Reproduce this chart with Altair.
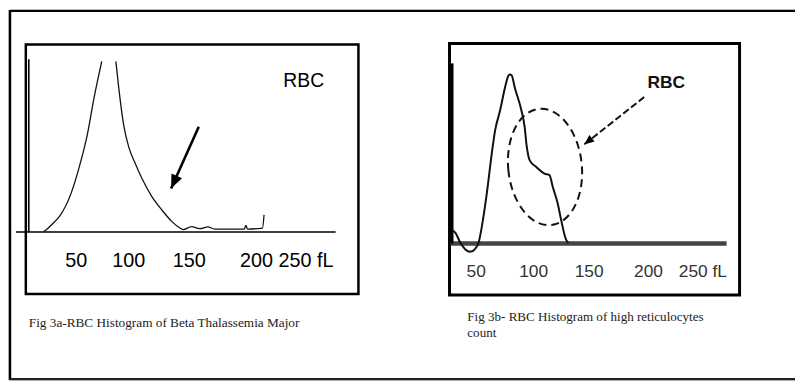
import altair as alt
import pandas as pd

# ---------------- Fig 3a : RBC histogram of beta thalassaemia major ----------------
a_left_mcv = [14.9, 17.5, 23.8, 30.7, 42.3, 50.5, 58.7, 65.3, 73.0]
a_left_count = [0.2, 1.3, 4.8, 9.1, 22.6, 38.1, 57.5, 78.7, 100.0]
a_right_mcv = [87.1, 89.9, 95.0, 100.0, 106.6, 113.2, 123.1, 133.0, 142.9, 151.2, 154.5,
               162.7, 171.0, 179.2, 185.8, 199.0, 215.5, 217.1, 218.8, 233.7, 235.3]
a_right_count = [100.0, 84.9, 62.3, 49.7, 40.0, 31.3, 20.7, 12.9, 6.2, 2.3, 1.3,
                 3.1, 1.9, 2.9, 1.7, 1.7, 1.7, 3.8, 1.7, 2.2, 10.0]
a_tick_labels = ["50", "100", "150", "200", "250 fL"]
a_tick_pos = [47.5, 100, 160.4, 227.7, 277.2]
a_arrow = {"x": 170, "y": 61.7, "x2": 142.3, "y2": 25.5}
a_label = {"x": 275, "y": 84.9, "t": "RBC"}
a_caption = "Fig 3a-RBC Histogram of Beta Thalassemia Major"

# ---------------- Fig 3b : RBC histogram of high reticulocyte count ----------------
b_mcv = [28.4, 31.9, 36.2, 40.5, 44.8, 49.1, 52.0, 54.9, 59.2, 63.5, 66.4, 70.7, 75.0,
         77.8, 79.3, 80.8, 83.6, 89.4, 92.2, 93.7, 96.6, 102.3, 109.5, 113.8, 116.6,
         120.9, 123.9, 128.2, 130.2]
b_count = [8.2, 6.3, 0.4, -3.5, -4.9, -3.1, 0.4, 10.1, 29.6, 53.0, 66.7, 78.4, 92.0,
           98.8, 99.8, 99.4, 92.0, 78.4, 68.6, 58.9, 49.1, 45.2, 41.3, 40.4, 33.5,
           23.8, 14.0, 2.3, 0.4]
b_tick_labels = ["50", "100", "150", "200", "250 fL"]
b_tick_pos = [50, 100, 148.3, 200, 247.4]
b_arrow = {"x": 196.3, "y": 86.5, "x2": 144.0, "y2": 58.5}
b_ellipse = {"x": 109.9, "y": 45.2}
b_label = {"x": 215.5, "y": 92.0, "t": "RBC"}
b_caption = ["Fig 3b- RBC Histogram of high reticulocytes", "count"]

# ---------------- scales (data -> pixel placement of each panel) ----------------
def sc(dom, rng):
    return alt.Scale(domain=dom, range=rng, nice=False, zero=False)

SA_X = sc([0, 100], [21, 122])
SA_Y = sc([0, 100], [224.3, 52])
SB_X = sc([50, 100], [473, 531])
SB_Y = sc([0, 100], [236, 65])


def X(f, s):
    return alt.X(f"{f}:Q", scale=s, axis=None)


def Y(f, s):
    return alt.Y(f"{f}:Q", scale=s, axis=None)


one = pd.DataFrame({"d": [0]})
SANS = "Liberation Sans"
SERIF = "Liberation Serif"

ARROW_HEAD = "M 0 0 L 0.42 1 L -0.42 1 Z"
ELLIPSE = "M -0.63 0 A 0.63 1 0 0 1 0.63 0 A 0.63 1 0 0 1 -0.63 0 Z"

layers = []

# outer frame (top, left, bottom)
layers.append(alt.Chart(one).mark_rule(color="black", strokeWidth=2.5).encode(
    x=alt.value(2), x2=alt.value(795), y=alt.value(1)))
layers.append(alt.Chart(one).mark_rule(color="black", strokeWidth=2.5).encode(
    x=alt.value(2), y=alt.value(0), y2=alt.value(374)))
layers.append(alt.Chart(one).mark_rule(color="#222", strokeWidth=2.5).encode(
    x=alt.value(2), x2=alt.value(795), y=alt.value(373)))

# panel boxes
layers.append(alt.Chart(one).mark_rect(fillOpacity=0, stroke="black", strokeWidth=2.5).encode(
    x=alt.value(18), x2=alt.value(354), y=alt.value(35), y2=alt.value(287)))
layers.append(alt.Chart(one).mark_rect(fillOpacity=0, stroke="black", strokeWidth=3).encode(
    x=alt.value(446), x2=alt.value(739), y=alt.value(34), y2=alt.value(288)))

# ---- panel A ----
df_a = pd.DataFrame({
    "mcv": a_left_mcv + a_right_mcv,
    "count": a_left_count + a_right_count,
    "branch": ["L"] * len(a_left_mcv) + ["R"] * len(a_right_mcv),
    "i": list(range(len(a_left_mcv) + len(a_right_mcv))),
})
layers.append(alt.Chart(pd.DataFrame({"x": [-12.9], "x2": [306.9], "y": [0]})).mark_rule(
    color="black", strokeWidth=1.6).encode(x=X("x", SA_X), x2="x2:Q", y=Y("y", SA_Y)))
layers.append(alt.Chart(pd.DataFrame({"x": [0], "y": [0], "y2": [101.2]})).mark_rule(
    color="black", strokeWidth=1.6).encode(x=X("x", SA_X), y=Y("y", SA_Y), y2="y2:Q"))
layers.append(alt.Chart(df_a).mark_line(color="#111", strokeWidth=1.3, interpolate="monotone").encode(
    x=X("mcv", SA_X), y=Y("count", SA_Y), detail="branch:N", order="i:Q"))
layers.append(alt.Chart(pd.DataFrame([a_arrow])).mark_rule(color="black", strokeWidth=2.6).encode(
    x=X("x", SA_X), y=Y("y", SA_Y), x2="x2:Q", y2="y2:Q"))
layers.append(alt.Chart(pd.DataFrame([a_arrow])).mark_point(
    shape=ARROW_HEAD, filled=True, color="black", opacity=1, size=784, angle=204.3).encode(
    x=X("x2", SA_X), y=Y("y2", SA_Y)))
layers.append(alt.Chart(pd.DataFrame([a_label])).mark_text(
    font=SANS, fontSize=19.5, align="center", baseline="alphabetic", color="black").encode(
    x=X("x", SA_X), y=Y("y", SA_Y), text="t:N"))
layers.append(alt.Chart(pd.DataFrame({"pos": a_tick_pos, "t": a_tick_labels, "y": [-20.7] * 5})).mark_text(
    font=SANS, fontSize=20, align="center", baseline="alphabetic", color="black").encode(
    x=X("pos", SA_X), y=Y("y", SA_Y), text="t:N"))
layers.append(alt.Chart(pd.DataFrame({"t": [a_caption]})).mark_text(
    font=SERIF, fontSize=13.4, align="left", baseline="alphabetic", color="#222").encode(
    x=alt.value(21), y=alt.value(320), text="t:N"))

# ---- panel B ----
df_b = pd.DataFrame({"mcv": b_mcv, "count": b_count, "i": list(range(len(b_mcv)))})
layers.append(alt.Chart(pd.DataFrame({"x": [27.6], "x2": [268], "y": [0]})).mark_rule(
    color="#444", strokeWidth=4.5).encode(x=X("x", SB_X), x2="x2:Q", y=Y("y", SB_Y)))
layers.append(alt.Chart(pd.DataFrame({"x": [28.9], "y": [0], "y2": [106.4]})).mark_rule(
    color="black", strokeWidth=3).encode(x=X("x", SB_X), y=Y("y", SB_Y), y2="y2:Q"))
layers.append(alt.Chart(df_b).mark_line(color="#111", strokeWidth=2, interpolate="monotone").encode(
    x=X("mcv", SB_X), y=Y("count", SB_Y), order="i:Q"))
layers.append(alt.Chart(pd.DataFrame([b_ellipse])).mark_point(
    shape=ELLIPSE, filled=False, color="#111", opacity=1, size=13924, angle=354,
    strokeWidth=2, strokeDash=[8, 5]).encode(x=X("x", SB_X), y=Y("y", SB_Y)))
layers.append(alt.Chart(pd.DataFrame([b_arrow])).mark_rule(
    color="#111", strokeWidth=2, strokeDash=[7, 3]).encode(
    x=X("x", SB_X), y=Y("y", SB_Y), x2="x2:Q", y2="y2:Q"))
layers.append(alt.Chart(pd.DataFrame([b_arrow])).mark_point(
    shape=ARROW_HEAD, filled=True, color="black", opacity=1, size=400, angle=231.7).encode(
    x=X("x2", SB_X), y=Y("y2", SB_Y)))
layers.append(alt.Chart(pd.DataFrame([b_label])).mark_text(
    font=SANS, fontSize=17.5, fontWeight="bold", align="center", baseline="alphabetic", color="#111").encode(
    x=X("x", SB_X), y=Y("y", SB_Y), text="t:N"))
layers.append(alt.Chart(pd.DataFrame({"pos": b_tick_pos, "t": b_tick_labels, "y": [-19.9] * 5})).mark_text(
    font=SANS, fontSize=17.5, align="center", baseline="alphabetic", color="#333").encode(
    x=X("pos", SB_X), y=Y("y", SB_Y), text="t:N"))
layers.append(alt.Chart(one).mark_text(
    font=SERIF, fontSize=13.2, align="left", baseline="alphabetic", color="#222", lineHeight=16).encode(
    x=alt.value(464), y=alt.value(314), text=alt.value(b_caption)))

chart = alt.layer(*layers).resolve_scale(x="independent", y="independent").properties(
    width=795, height=374, padding=0,
    autosize=alt.AutoSizeParams(type="none"),
).configure_view(strokeWidth=0).configure(background="white")

chart.save("out.html", embed_options={"renderer": "svg", "actions": False})
